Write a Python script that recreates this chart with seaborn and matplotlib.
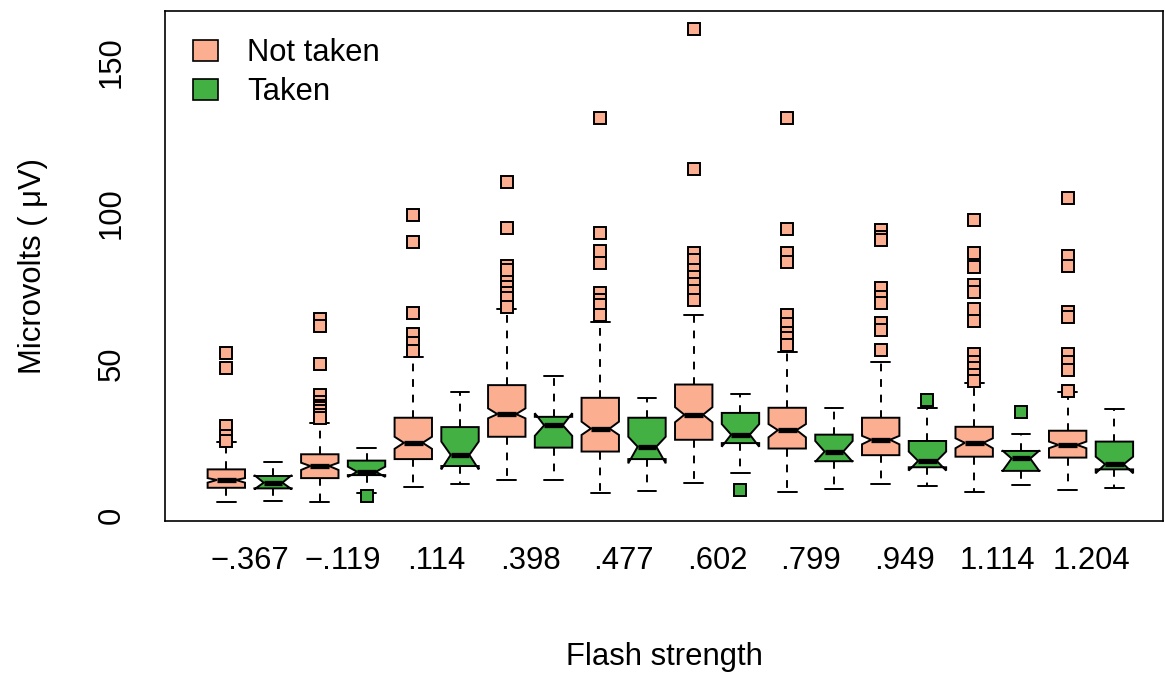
import matplotlib.pyplot as plt
import seaborn as sns
from matplotlib.patches import Patch

sns.set_style("white")
plt.rcParams["font.family"] = ["Liberation Sans", "DejaVu Sans"]
plt.rcParams["text.color"] = "black"

# flash strength groups
groups = ["\u2212.367", "\u2212.119", ".114", ".398", ".477",
          ".602", ".799", ".949", "1.114", "1.204"]

# "Not taken" boxes
nt_q1 = [9.0, 12.2, 18.5, 25.9, 21.0, 24.9, 22.0, 19.8, 19.3, 19.0]
nt_med = [11.6, 16.2, 23.9, 33.4, 28.6, 33.2, 28.1, 24.9, 23.9, 23.2]
nt_q3 = [15.1, 20.1, 32.2, 43.0, 38.8, 43.2, 35.5, 32.2, 29.2, 27.9]
nt_lo = [4.4, 4.3, 9.4, 11.6, 7.4, 10.6, 7.5, 10.2, 7.7, 8.3]
nt_hi = [24.1, 30.6, 52.4, 68.1, 63.8, 66.3, 54.0, 50.5, 43.6, 40.7]
nt_cilo = [10.7, 14.9, 21.9, 32.0, 26.5, 30.7, 25.7, 23.4, 22.1, 22.1]
nt_cihi = [12.2, 17.3, 25.9, 35.3, 30.9, 35.7, 30.1, 26.2, 25.4, 24.3]
nt_out = [
    [53.7, 48.8, 29.6, 26.2, 24.6],
    [64.8, 62.7, 49.9, 39.7, 37.5, 36.2, 35.3, 34.3, 33.0, 32.0],
    [99.3, 90.4, 67.0, 59.8, 57.0, 54.4],
    [110.4, 95.1, 82.5, 81.1, 77.3, 75.6, 73.4, 71.7, 69.0],
    [131.5, 93.3, 87.5, 83.5, 73.6, 71.2, 69.5, 66.2],
    [160.8, 114.7, 86.9, 84.4, 81.0, 78.8, 76.6, 74.3, 71.2],
    [131.4, 94.6, 86.6, 83.8, 66.2, 63.1, 60.3, 58.7, 56.4],
    [94.5, 92.2, 90.9, 75.1, 72.1, 70.1, 63.7, 61.1, 54.5],
    [97.7, 86.6, 82.2, 76.2, 73.7, 68.1, 64.3, 53.2, 50.8, 48.6, 46.4, 44.5],
    [105.1, 85.8, 82.5, 67.1, 65.7, 53.2, 50.6, 48.0, 41.2],
]

# "Taken" boxes
t_q1 = [8.8, 13.2, 16.2, 22.3, 18.5, 23.8, 17.8, 15.8, 14.6, 15.1]
t_med = [10.7, 14.3, 19.9, 29.7, 22.6, 26.6, 21.0, 17.9, 18.7, 16.8]
t_q3 = [12.9, 18.0, 29.1, 32.5, 32.2, 33.8, 26.6, 24.5, 21.2, 24.3]
t_lo = [4.6, 7.4, 10.2, 11.6, 7.9, 13.9, 8.6, 9.6, 9.9, 9.0]
t_hi = [17.5, 22.3, 40.8, 46.0, 38.6, 40.2, 35.5, 35.5, 26.7, 35.2]
t_cilo = [8.5, 12.6, 15.1, 26.2, 17.1, 22.6, 17.6, 14.7, 14.4, 13.8]
t_cihi = [13.2, 16.0, 24.3, 33.7, 25.9, 30.1, 24.5, 21.0, 21.4, 19.3]
t_out = [[], [6.3], [], [], [], [8.2], [], [38.1], [34.1], []]

nt_color = "#FCAE91"
t_color = "#43B044"


def make_stats(q1, med, q3, lo, hi, cilo, cihi, out):
    stats = []
    for i in range(len(q1)):
        stats.append(dict(q1=q1[i], med=med[i], q3=q3[i], whislo=lo[i],
                          whishi=hi[i], cilo=cilo[i], cihi=cihi[i],
                          fliers=out[i]))
    return stats


fig = plt.figure(figsize=(11.65, 6.73), dpi=100)
ax = fig.add_axes([0.1419, 0.2263, 0.8564, 0.7578])

n = len(groups)
nt_pos = [2 * k + 1 for k in range(n)]
t_pos = [2 * k + 2 for k in range(n)]

for stats, pos, color in [
    (make_stats(nt_q1, nt_med, nt_q3, nt_lo, nt_hi, nt_cilo, nt_cihi, nt_out), nt_pos, nt_color),
    (make_stats(t_q1, t_med, t_q3, t_lo, t_hi, t_cilo, t_cihi, t_out), t_pos, t_color),
]:
    ax.bxp(
        stats,
        positions=pos,
        widths=0.8,
        shownotches=True,
        patch_artist=True,
        manage_ticks=False,
        boxprops=dict(facecolor=color, edgecolor="black", linewidth=1.4),
        whiskerprops=dict(color="black", linewidth=1.4, linestyle=(0, (4, 4))),
        capprops=dict(color="black", linewidth=1.4),
        medianprops=dict(color="black", linewidth=3.8, solid_capstyle="butt"),
        flierprops=dict(marker="s", markerfacecolor=color, markeredgecolor="black",
                        markersize=9.3, markeredgewidth=1.4, linestyle="none"),
    )

ax.set_xlim(-0.305, 21.04)
ax.set_ylim(-1.9, 167.0)
ax.set_xticks([2 * k + 1.5 for k in range(n)])
ax.set_xticklabels(groups)
ax.set_yticks([0, 50, 100, 150])
ax.set_yticklabels(["0", "50", "100", "150"], rotation=90, va="center")
ax.tick_params(axis="both", direction="out", length=14, width=1.1,
               labelsize=22.3, color="black", labelcolor="black")
ax.tick_params(axis="x", pad=4)
ax.tick_params(axis="y", pad=14)

for sp in ax.spines.values():
    sp.set_color("black")
    sp.set_linewidth(1.2)

ax.set_xlabel("Flash strength", fontsize=22.3, labelpad=48, color="black")
ax.set_ylabel("Microvolts ( \u03bcV)", fontsize=22.3, labelpad=35, color="black")

handles = [
    Patch(facecolor=nt_color, edgecolor="black", linewidth=1.2, label="Not taken"),
    Patch(facecolor=t_color, edgecolor="black", linewidth=1.2, label="Taken"),
]
ax.legend(handles=handles, loc="upper left", bbox_to_anchor=(0.0278, 0.946),
          frameon=False, fontsize=22.3, handlelength=0.8, handleheight=0.65,
          handletextpad=0.94, labelspacing=0.29, borderpad=0, borderaxespad=0)

fig.savefig("out.png", dpi=100)
